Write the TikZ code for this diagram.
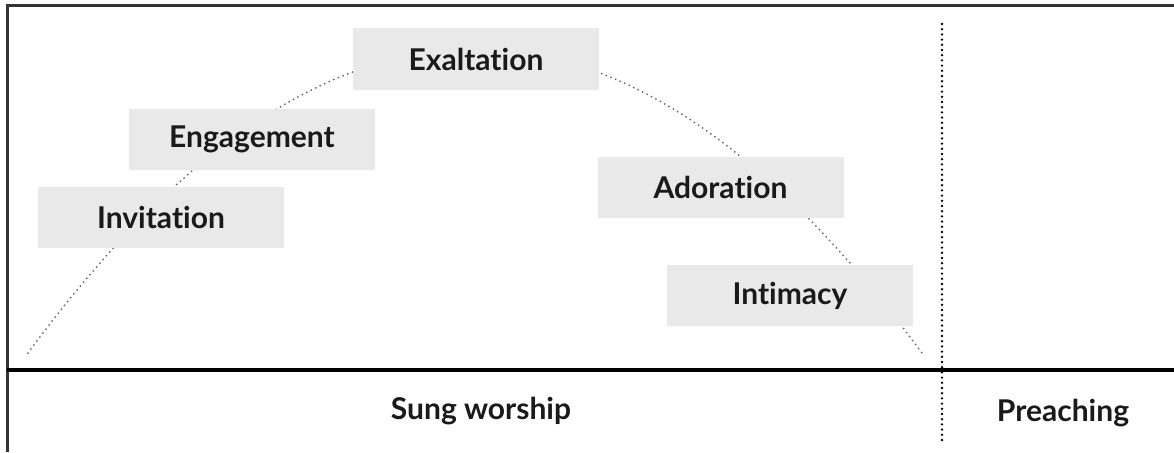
\documentclass[tikz,border=0pt]{standalone}
\usepackage{fontspec}
\setmainfont{Lato}[Ligatures={NoCommon,NoRequired}]
\begin{document}
\begin{tikzpicture}[x=1pt,y=-1pt,
  stage/.style={fill=boxgray,minimum width=246pt,minimum height=61pt,inner sep=0pt,font=\fontsize{30}{34}\selectfont\bfseries,text=textblack},
  lbl/.style={inner sep=0pt,font=\fontsize{30}{34}\selectfont\bfseries,text=textblack},
  arc/.style={draw=black!60,line width=2pt,line cap=round,dash pattern=on 0pt off 5pt},
  divider/.style={draw=black,line width=2.6pt,line cap=round,dash pattern=on 0pt off 5.2pt}]
\definecolor{boxgray}{HTML}{E9E9E9}
\definecolor{textblack}{HTML}{1A1A1A}
\definecolor{framegray}{HTML}{333333}
\useasboundingbox (0,0) rectangle (1174,452);
% curve
\coordinate (cs) at (28,353);
\coordinate (ce) at (922,353);
\draw[arc] (cs) .. controls (326,-52) and (624,-52) .. (ce);
% frame
\draw[framegray,line width=3pt] (7,452) -- (7,5.5) -- (1174,5.5);
\draw[black,line width=4pt] (7,370) -- (1174,370);
\coordinate (dt) at (942,24);
\coordinate (db) at (942,442);
\draw[divider] (dt) -- (db);
% stages
\node[stage] (exa) at (476,59) {Exaltation};
\node[stage] (eng) at (252,139) {Engagement};
\node[stage] (inv) at (161,217) {Invitation};
\node[stage] (ado) at (720.5,187.5) {Adoration};
\node[stage] (inti) at (790,295.5) {Intimacy};
% bottom labels
\node[lbl] (sung) at (481,411) {Sung worship};
\node[lbl] (pre) at (1063,413) {Preaching};
\end{tikzpicture}
\end{document}
